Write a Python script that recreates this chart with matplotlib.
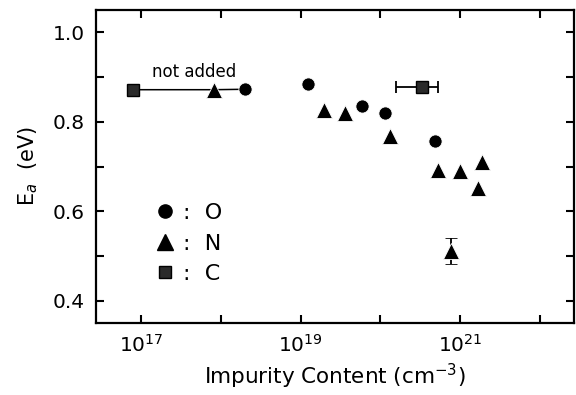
import matplotlib.pyplot as plt
from matplotlib.lines import Line2D
import numpy as np

# "not added" reference samples (C, N, O)
na_x = [10**16.895, 10**17.907, 10**18.305]
na_y = [0.872, 0.872, 0.873]

# Oxygen-added
o_x = [10**18.305, 10**19.088, 10**19.773, 10**20.063, 10**20.68]
o_y = [0.873, 0.884, 0.835, 0.820, 0.757]

# Nitrogen-added
n_x = [10**17.907, 10**19.285, 10**19.557, 10**20.12, 10**20.72, 10**21.0, 10**21.28, 10**21.22]
n_y = [0.872, 0.826, 0.819, 0.768, 0.693, 0.690, 0.710, 0.651]

# Nitrogen point with error bar
n_err_x = [10**20.89]
n_err_y = [0.511]
n_err_dy = [0.029]

# Carbon-added
c_x = [10**16.895]
c_y = [0.872]
c_err_x = [10**20.52]
c_err_y = [0.878]
c_err_lo = [10**20.19]
c_err_hi = [10**20.72]

plt.rcParams['font.family'] = 'DejaVu Sans'
fig = plt.figure(figsize=(5.76, 3.95), dpi=100)
ax = fig.add_axes([0.1667, 0.1823, 0.83, 0.792])

sq_face = '#2a2a2a'

# line through the "not added" points
ax.plot(na_x, na_y, color='black', linewidth=1.1, zorder=1)

ax.plot(o_x, o_y, 'o', color='black', markersize=9.5, markeredgecolor='white',
        markeredgewidth=0.6, zorder=3)
ax.plot(n_x, n_y, '^', color='black', markersize=11, markeredgecolor='white',
        markeredgewidth=0.6, zorder=3)
ax.errorbar(n_err_x, n_err_y, yerr=n_err_dy, fmt='^', color='black', markersize=11,
            markeredgecolor='white', markeredgewidth=0.6,
            capsize=4, elinewidth=1.3, capthick=1.3, zorder=3)
ax.plot(c_x, c_y, 's', color=sq_face, markeredgecolor='black', markersize=8.5, zorder=3)
xerr = [[c_err_x[0] - c_err_lo[0]], [c_err_hi[0] - c_err_x[0]]]
ax.errorbar(c_err_x, c_err_y, xerr=xerr, fmt='s', color='black', markerfacecolor=sq_face,
            markersize=8.5, capsize=4, elinewidth=1.3, capthick=1.3, zorder=3)

ax.text(10**17.66, 0.911, 'not added', ha='center', va='center', fontsize=12)

ax.set_xscale('log')
ax.set_xlim(10**16.43, 10**22.43)
ax.set_ylim(0.35, 1.05)

ax.set_xticks([1e17, 1e18, 1e19, 1e20, 1e21, 1e22])
ax.set_xticklabels([r'$10^{17}$', '', r'$10^{19}$', '', r'$10^{21}$', ''])
ax.xaxis.set_minor_locator(plt.NullLocator())
ax.set_yticks([0.4, 0.5, 0.6, 0.7, 0.8, 0.9, 1.0])
ax.set_yticklabels(['0.4', '', '0.6', '', '0.8', '', '1.0'])

ax.tick_params(direction='in', length=6, width=1.5, top=True, right=True,
               labelsize=14.5, pad=8)
for s in ax.spines.values():
    s.set_linewidth(1.6)

ax.set_xlabel(r'Impurity Content (cm$^{-3}$)', fontsize=15.5, labelpad=4)
ax.set_ylabel(r'E$_a$  (eV)', fontsize=15, labelpad=9)

handles = [
    Line2D([], [], linestyle='none', marker='o', color='black', markersize=9.5),
    Line2D([], [], linestyle='none', marker='^', color='black', markersize=11),
    Line2D([], [], linestyle='none', marker='s', color=sq_face, markeredgecolor='black',
           markersize=8.5),
]
ax.legend(handles, [':  O', ':  N', ':  C'], loc='lower left',
          bbox_to_anchor=(0.08, 0.06), frameon=False, fontsize=16,
          handletextpad=0.3, labelspacing=0.48, handlelength=1.0)

fig.savefig('out.png', dpi=100)
